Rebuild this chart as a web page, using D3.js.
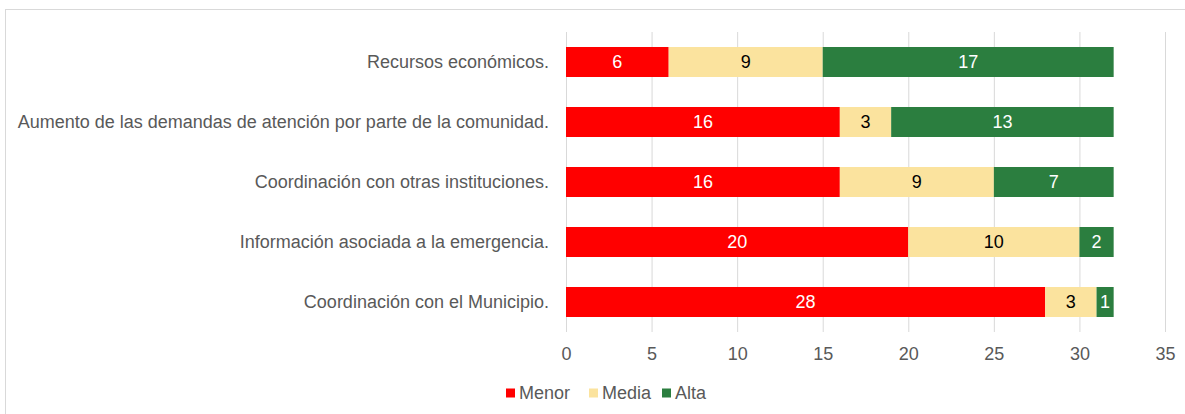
<!DOCTYPE html>
<html>
<head>
<meta charset="utf-8">
<script src="https://cdn.jsdelivr.net/npm/d3@7"></script>
<style>
  body { margin: 0; background: #fff; }
  text { font-family: "Liberation Sans", Arial, sans-serif; }
</style>
</head>
<body>
<svg></svg>
<script>
// categories top to bottom
let categories = [
  'Recursos económicos.',
  'Aumento de las demandas de atención por parte de la comunidad.',
  'Coordinación con otras instituciones.',
  'Información asociada a la emergencia.',
  'Coordinación con el Municipio.'
];
let menor = [6, 16, 16, 20, 28];
let media = [9, 3, 9, 10, 3];
let alta  = [17, 13, 7, 2, 1];
let seriesNames = ['Menor', 'Media', 'Alta'];
let xTicks = [0, 5, 10, 15, 20, 25, 30, 35];

let width  = 1185,
    height = 414;
let colors    = ['#ff0000', '#fbe39e', '#2b7e3f'],
    textColor = ['#ffffff', '#000000', '#ffffff'];

let rows = categories.map((c, i) => ({ cat: c, Menor: menor[i], Media: media[i], Alta: alta[i] }));
let stacked = d3.stack().keys(seriesNames)(rows);

let svg = d3.select('svg')
    .attr('width', width)
    .attr('height', height);

// outer frame
svg.append('rect')
    .attr('x', 5.5).attr('y', 9.5)
    .attr('width', width + 10).attr('height', height + 10)
    .attr('fill', 'none')
    .attr('stroke', '#d9d9d9');

let xScale = d3.scaleLinear().domain([0, 35]).range([566, 1165]),
    yScale = d3.scaleBand().domain(categories).range([32, 332])
                .paddingInner(0.5).paddingOuter(0.25);

// grid
let xAxis = d3.axisBottom(xScale)
    .tickValues(xTicks)
    .tickSize(-300)
    .tickSizeOuter(0)
    .tickPadding(15);

let gx = svg.append('g')
    .attr('transform', 'translate(0, 332)')
    .call(xAxis);
gx.select('.domain').remove();
gx.selectAll('line').attr('stroke', '#d9d9d9');
gx.selectAll('text')
    .attr('fill', '#595959')
    .attr('font-size', '18px');

// category labels
svg.append('g')
  .selectAll('text')
  .data(categories)
  .enter()
  .append('text')
    .attr('x', 549)
    .attr('y', d => yScale(d) + yScale.bandwidth() / 2)
    .attr('dy', '0.35em')
    .attr('text-anchor', 'end')
    .attr('fill', '#595959')
    .attr('font-size', '18px')
    .text(d => d);

// bars
let layers = svg.append('g')
  .selectAll('g')
  .data(stacked)
  .enter()
  .append('g')
    .attr('fill', (d, i) => colors[i]);

layers.selectAll('rect')
  .data(d => d)
  .enter()
  .append('rect')
    .attr('x', d => xScale(d[0]))
    .attr('y', d => yScale(d.data.cat))
    .attr('width', d => xScale(d[1]) - xScale(d[0]))
    .attr('height', yScale.bandwidth());

layers.each(function(s, si) {
  d3.select(this).selectAll('text')
    .data(s)
    .enter()
    .append('text')
      .attr('x', d => (xScale(d[0]) + xScale(d[1])) / 2)
      .attr('y', d => yScale(d.data.cat) + yScale.bandwidth() / 2)
      .attr('dy', '0.35em')
      .attr('text-anchor', 'middle')
      .attr('fill', textColor[si])
      .attr('font-size', '18px')
      .text(d => d[1] - d[0]);
});

// legend
let legendX = [506, 589, 662];
let legend = svg.append('g')
  .selectAll('g')
  .data(seriesNames)
  .enter()
  .append('g')
    .attr('transform', (d, i) => `translate(${legendX[i]}, 393)`);

legend.append('rect')
    .attr('x', 0).attr('y', -4.5)
    .attr('width', 9).attr('height', 9)
    .attr('fill', (d, i) => colors[i]);

legend.append('text')
    .attr('x', 13)
    .attr('dy', '0.35em')
    .attr('fill', '#595959')
    .attr('font-size', '18px')
    .text(d => d);
</script>
</body>
</html>
